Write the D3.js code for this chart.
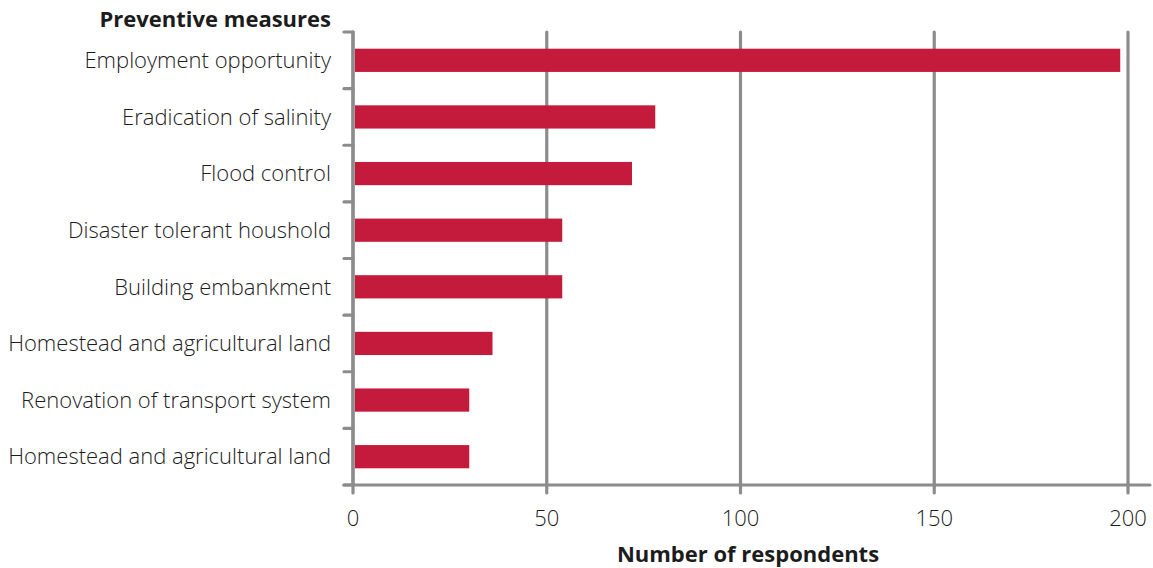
<!DOCTYPE html>
<html>
<head>
<meta charset="utf-8">
<script src="https://cdn.jsdelivr.net/npm/d3@7"></script>
<style>
  html, body { margin: 0; padding: 0; background: #fff; }
  svg text { font-family: "Open Sans", "Noto Sans", sans-serif; fill: #1c1c1c; }
</style>
</head>
<body>
<svg id="chart" width="1153" height="568"></svg>
<script>
// Preventive measures named by respondents
const categories = [
  "Employment opportunity",
  "Eradication of salinity",
  "Flood control",
  "Disaster tolerant houshold",
  "Building embankment",
  "Homestead and agricultural land",
  "Renovation of transport system",
  "Homestead and agricultural land "
];
const respondents = [198, 78, 72, 54, 54, 36, 30, 30];
const xTicks = [0, 50, 100, 150, 200];

const svg = d3.select("#chart");
const margin = { top: 32, left: 353, right: 25, bottom: 83 };
const W = 1153, H = 568;
const plotH = H - margin.top - margin.bottom;

const x = d3.scaleLinear().domain([0, 200]).range([0, 1128 - 353]);
const y = d3.scaleBand().domain(categories).range([0, plotH]).paddingInner(0.59).paddingOuter(0.295);
const band = d3.scaleBand().domain(categories).range([0, plotH]).padding(0);

const grey = "#8c8c8c";
const g = svg.append("g").attr("transform", `translate(${margin.left},${margin.top})`);

// vertical gridlines, running slightly below the baseline
g.append("g").selectAll("line").data(xTicks).join("line")
  .attr("x1", d => x(d)).attr("x2", d => x(d))
  .attr("y1", 0).attr("y2", plotH + 8)
  .attr("stroke", grey).attr("stroke-width", 3.2).attr("stroke-linecap", "round");

// bars
g.append("g").selectAll("rect").data(categories).join("rect")
  .attr("x", x(0) + 2)
  .attr("y", d => y(d))
  .attr("width", (d, i) => x(respondents[i]) - x(0) - 2)
  .attr("height", y.bandwidth())
  .attr("fill", "#c41a3b");

// category axis with ticks on band boundaries
const boundaries = categories.map(c => band(c)).concat([plotH]);
g.append("line")
  .attr("x1", 0).attr("x2", 0).attr("y1", 0).attr("y2", plotH)
  .attr("stroke", grey).attr("stroke-width", 3.2).attr("stroke-linecap", "round");
g.append("g").selectAll("line").data(boundaries).join("line")
  .attr("x1", -9).attr("x2", 0)
  .attr("y1", d => d).attr("y2", d => d)
  .attr("stroke", grey).attr("stroke-width", 3.2).attr("stroke-linecap", "round");

// baseline
g.append("line")
  .attr("x1", -9).attr("x2", W - margin.left - 3)
  .attr("y1", plotH).attr("y2", plotH)
  .attr("stroke", grey).attr("stroke-width", 3.2).attr("stroke-linecap", "round");

// category labels
g.append("g").selectAll("text").data(categories).join("text")
  .attr("x", -22)
  .attr("y", d => y(d) + y.bandwidth() / 2)
  .attr("dy", "0.35em")
  .attr("text-anchor", "end")
  .attr("font-size", 22)
  .attr("font-weight", 300)
  .text(d => d.trim());

// value axis labels
g.append("g").selectAll("text").data(xTicks).join("text")
  .attr("x", d => x(d))
  .attr("y", 526 - margin.top)
  .attr("text-anchor", "middle")
  .attr("font-size", 22)
  .attr("font-weight", 300)
  .text(d => d);

// titles
svg.append("text")
  .attr("x", 331).attr("y", 27)
  .attr("text-anchor", "end")
  .attr("font-size", 22).attr("font-weight", "bold")
  .text("Preventive measures");

svg.append("text")
  .attr("x", 748).attr("y", 562)
  .attr("text-anchor", "middle")
  .attr("font-size", 22).attr("font-weight", "bold")
  .text("Number of respondents");
</script>
</body>
</html>
